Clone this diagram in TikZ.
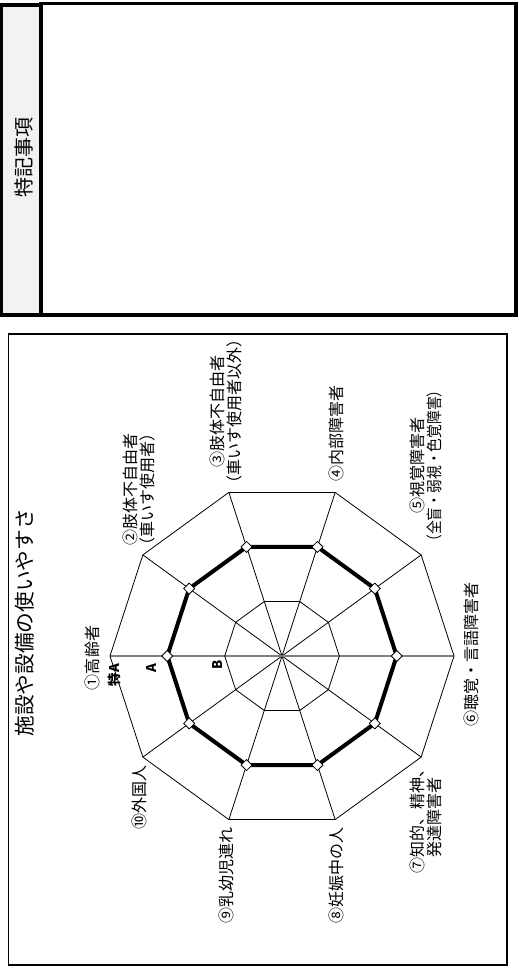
\documentclass[tikz,border=0pt]{standalone}
\usepackage{fontspec}
\setmainfont{Noto Sans CJK JP}
\usetikzlibrary{shapes.geometric}
\tikzset{
  lab/.style={rotate=90,align=center,inner sep=0pt,font=\fontsize{12}{13}\selectfont},
  lev/.style={rotate=90,inner sep=0pt,font=\fontsize{10}{12}\selectfont\bfseries},
  datadot/.style={diamond,draw,fill=white,line width=0.6pt,inner sep=0pt,minimum size=8.5pt}
}

\begin{document}
\begin{tikzpicture}[x=0.75pt,y=0.75pt,line width=0.6pt]
\useasboundingbox (-282,-321) rectangle (236,656);
% memo box
\draw[line width=2.5pt,fill=black!5] (-280.3,341) rectangle (-241,651);
\draw[line width=2.5pt] (-241,341) rectangle (234,652.7);
\node[rotate=90,font=\fontsize{15}{17}\selectfont] (memo) at (-258,498) {特記事項};
% chart frame
\draw[line width=0.8pt] (-273.7,-309) rectangle (225,322);
\node[rotate=90,font=\fontsize{15.5}{18}\selectfont] (title) at (-257,33) {施設や設備の使いやすさ};
% grid
\foreach \k in {1,...,10}{
  \coordinate (O\k) at ({216-36*\k}:172);
  \coordinate (I\k) at ({216-36*\k}:57.3);
  \coordinate (D\k) at ({216-36*\k}:114.7);
  \draw (0,0) -- (O\k);
}
\draw[gray,line width=1pt] (O1)--(O6);
\draw (O1)--(O2)--(O3)--(O4)--(O5)--(O6)--(O7)--(O8)--(O9)--(O10)--cycle;
\draw (I1)--(I2)--(I3)--(I4)--(I5)--(I6)--(I7)--(I8)--(I9)--(I10)--cycle;
\draw[line width=3pt,line join=round] (D1)--(D2)--(D3)--(D4)--(D5)--(D6)--(D7)--(D8)--(D9)--(D10)--cycle;
\foreach \k in {1,...,10} \node[datadot] (M\k) at (D\k) {};
% labels
\node[lab] (L1) at (-190,-2) {①高齢者};
\node[lab] (L2) at (-143,166) {②肢体不自由者\\（車いす使用者）};
\node[lab] (L3) at (-56,244) {③肢体不自由者\\（車いす使用者以外）};
\node[lab] (L4) at (54,222) {④内部障害者};
\node[lab] (L5) at (144,190) {⑤視覚障害者\\{\addfontfeature{FakeStretch=0.86}（全盲・弱視・色覚障害）}};
\node[lab] (L6) at (189,1) {⑥聴覚・言語障害者};
\node[lab] (L7) at (144,-161) {⑦知的、精神、\\発達障害者};
\node[lab] (L8) at (54,-219) {⑧妊娠中の人};
\node[lab] (L9) at (-56,-219) {⑨乳幼児連れ};
\node[lab] (L10) at (-143,-141) {⑩外国人};
\node[lev] (tokA) at (-168,-19) {特A};
\node[lev] (levA) at (-130,-12) {A};
\node[lev] (levB) at (-64,-9) {B};
\end{tikzpicture}
\end{document}
